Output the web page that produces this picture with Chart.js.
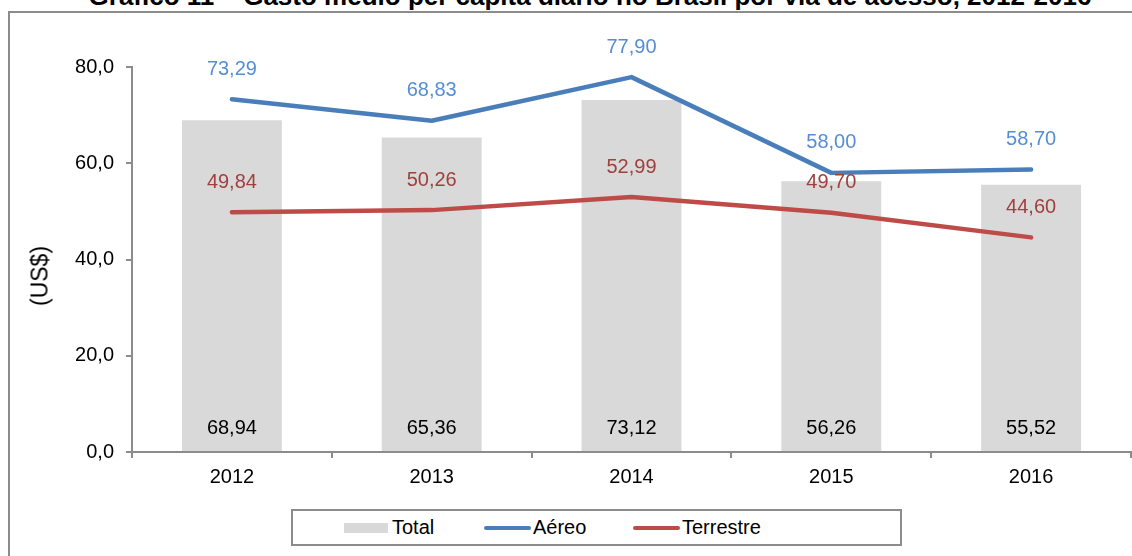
<!DOCTYPE html>
<html>
<head>
<meta charset="utf-8">
<script src="https://cdn.jsdelivr.net/npm/chart.js@4"></script>
<style>
  html, body { margin:0; padding:0; background:#fff; }
  body { width:1132px; height:556px; position:relative; overflow:hidden; font-family:"Liberation Sans", Arial, sans-serif; }
  #title { position:absolute; left:0; width:1180px; top:-19px; line-height:30px; text-align:center; font-weight:bold; font-size:26px; color:#000; white-space:nowrap; }
  #frame { position:absolute; left:8px; top:11px; width:1200px; height:600px; border:2px solid #8c8c8c; box-sizing:border-box; }
  #ytitle { position:absolute; left:40px; top:276px; transform:translate(-50%,-50%) rotate(-90deg); font-size:23px; color:#000; white-space:nowrap; }
  #wrap { position:absolute; left:0; top:0; width:1132px; height:556px; }
  #legend { position:absolute; left:291px; top:509px; width:611px; height:37px; border:2px solid #8c8c8c; box-sizing:border-box; background:#fff; }
  .li { position:absolute; top:0; height:33px; display:flex; align-items:center; font-size:20px; color:#000; }
  .sw { display:inline-block; margin-right:4px; }
</style>
</head>
<body>
<div id="frame"></div>
<div id="title">Gráfico 11 – Gasto médio per capita diário no Brasil por via de acesso, 2012-2016</div>
<div id="wrap"><canvas id="c" width="1132" height="556"></canvas></div>
<div id="ytitle">(US$)</div>
<div id="legend"></div>
<script>
const categories = ['2012', '2013', '2014', '2015', '2016'];
const totalValues = [68.94, 65.36, 73.12, 56.26, 55.52];
const aereoValues = [73.29, 68.83, 77.90, 58.00, 58.70];
const terrestreValues = [49.84, 50.26, 52.99, 49.70, 44.60];
const yTickValues = [0, 20, 40, 60, 80];
const seriesNames = ['Total', 'Aéreo', 'Terrestre'];

const fmt = (v, d) => v.toFixed(d).replace('.', ',');
const FONT = '"Liberation Sans", Arial, sans-serif';
const gray = '#8c8c8c';

const labelPlugin = {
  id: 'labels',
  afterDatasetsDraw(chart) {
    const ctx = chart.ctx;
    ctx.save();
    ctx.font = '20px ' + FONT;
    ctx.textAlign = 'center';
    ctx.textBaseline = 'middle';
    chart.data.datasets.forEach((ds, i) => {
      const meta = chart.getDatasetMeta(i);
      meta.data.forEach((el, j) => {
        const v = ds.data[j];
        if (ds.type === 'bar') {
          ctx.fillStyle = '#000';
          ctx.fillText(fmt(v, 2), el.x, chart.scales.y.getPixelForValue(0) - 24);
        } else {
          ctx.fillStyle = ds.labelColor;
          ctx.fillText(fmt(v, 2), el.x, el.y - 30);
        }
      });
    });
    ctx.restore();
  }
};

new Chart(document.getElementById('c'), {
  data: {
    labels: categories,
    datasets: [
      { type: 'line', label: seriesNames[1], data: aereoValues, borderColor: '#4A7EBB', borderWidth: 4.5, pointRadius: 0, tension: 0, borderCapStyle: 'round', borderJoinStyle: 'round', labelColor: '#558ED5', order: 1 },
      { type: 'line', label: seriesNames[2], data: terrestreValues, borderColor: '#BE4B48', borderWidth: 4.5, pointRadius: 0, tension: 0, borderCapStyle: 'round', borderJoinStyle: 'round', labelColor: '#A0403D', order: 1 },
      { type: 'bar', label: seriesNames[0], data: totalValues, backgroundColor: '#D9D9D9', barPercentage: 0.5, categoryPercentage: 1, order: 2 }
    ]
  },
  options: {
    responsive: false,
    animation: false,
    events: [],
    layout: { padding: { left: 0, top: 67, right: 1, bottom: 40 } },
    plugins: { legend: { display: false }, tooltip: { enabled: false }, title: { display: false } },
    scales: {
      x: {
        type: 'category',
        offset: true,
        grid: { display: true, offset: true, drawOnChartArea: false, drawTicks: true, tickLength: 6, color: gray, lineWidth: 2 },
        border: { display: true, color: gray, width: 2 },
        ticks: { color: '#000', font: { family: FONT, size: 20 }, padding: 7, maxRotation: 0 },
        afterFit: s => { s.height = 64; }
      },
      y: {
        min: 0, max: 80,
        afterBuildTicks: s => { s.ticks = yTickValues.map(v => ({ value: v })); },
        grid: { display: true, drawOnChartArea: false, drawTicks: true, tickLength: 6, color: gray, lineWidth: 2 },
        border: { display: true, color: gray, width: 2 },
        ticks: { color: '#000', font: { family: FONT, size: 20 }, padding: 12, callback: v => fmt(v, 1) },
        afterFit: s => { s.width = 132; }
      }
    }
  },
  plugins: [labelPlugin]
});

// HTML legend
const legend = document.getElementById('legend');
const items = [
  { name: seriesNames[0], left: 51, sw: '<span class="sw" style="width:44px;height:10px;background:#D9D9D9"></span>' },
  { name: seriesNames[1], left: 191, sw: '<span class="sw" style="width:47px;height:4px;border-radius:2px;background:#4A7EBB;margin-right:2px"></span>' },
  { name: seriesNames[2], left: 340, sw: '<span class="sw" style="width:47px;height:4px;border-radius:2px;background:#BE4B48;margin-right:2px"></span>' }
];
items.forEach(it => {
  const d = document.createElement('div');
  d.className = 'li';
  d.style.left = it.left + 'px';
  d.innerHTML = it.sw + '<span>' + it.name + '</span>';
  legend.appendChild(d);
});
</script>
</body>
</html>
